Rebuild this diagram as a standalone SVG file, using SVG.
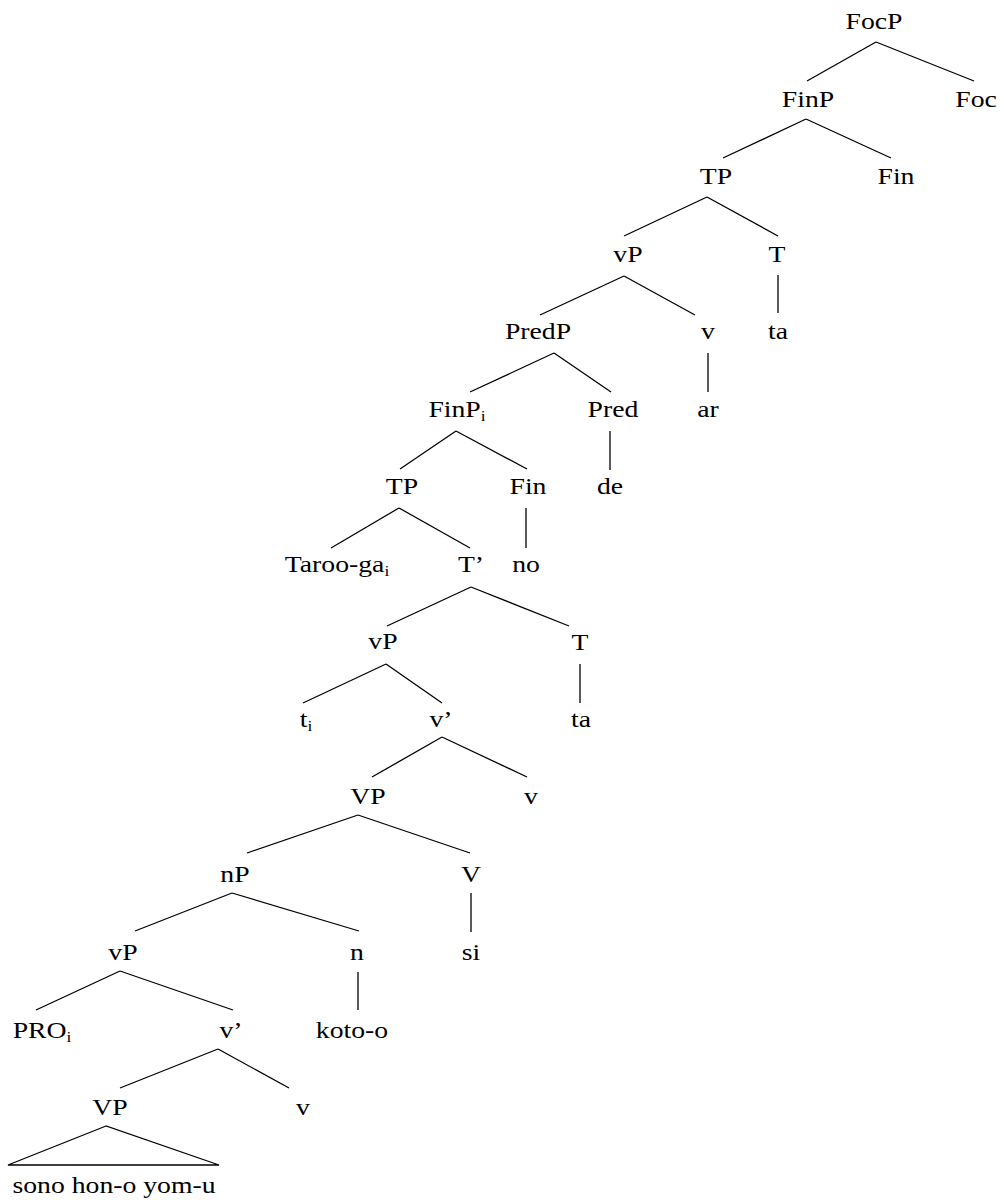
<svg xmlns="http://www.w3.org/2000/svg" width="1004" height="1200" viewBox="0 0 1004 1200">
<style>
  text { font-family: "Liberation Serif", "Times New Roman", serif; font-size: 24px; fill: #000; text-anchor: middle; }
  .sub { font-size: 15px; }
  #connectors line, #connectors polygon { stroke: #000; stroke-width: 1.3; fill: none; }
</style>
<rect width="1004" height="1200" fill="#fff"/>
<g id="connectors">
  <line x1="876" y1="42" x2="807" y2="81"/>
  <line x1="876" y1="42" x2="974" y2="81"/>
  <line x1="806" y1="119" x2="723" y2="158"/>
  <line x1="806" y1="119" x2="891" y2="158"/>
  <line x1="707" y1="197" x2="624" y2="236"/>
  <line x1="707" y1="197" x2="778" y2="236"/>
  <line x1="778" y1="275" x2="778" y2="313"/>
  <line x1="624" y1="276" x2="540" y2="315"/>
  <line x1="624" y1="276" x2="695" y2="315"/>
  <line x1="708" y1="353" x2="708" y2="392"/>
  <line x1="554" y1="353" x2="470" y2="392"/>
  <line x1="554" y1="353" x2="611" y2="392"/>
  <line x1="456" y1="431" x2="400" y2="469"/>
  <line x1="456" y1="431" x2="527" y2="469"/>
  <line x1="610" y1="431" x2="610" y2="470"/>
  <line x1="526" y1="508" x2="526" y2="548"/>
  <line x1="399" y1="508" x2="331" y2="548"/>
  <line x1="399" y1="508" x2="470" y2="548"/>
  <line x1="471" y1="587" x2="387" y2="626"/>
  <line x1="471" y1="587" x2="569" y2="626"/>
  <line x1="580" y1="664" x2="580" y2="703"/>
  <line x1="386" y1="664" x2="303" y2="703"/>
  <line x1="386" y1="664" x2="442" y2="703"/>
  <line x1="442" y1="737" x2="372" y2="777"/>
  <line x1="442" y1="737" x2="527" y2="777"/>
  <line x1="358" y1="815" x2="247" y2="853"/>
  <line x1="358" y1="815" x2="470" y2="853"/>
  <line x1="471" y1="893" x2="471" y2="932"/>
  <line x1="232" y1="893" x2="135" y2="931"/>
  <line x1="232" y1="893" x2="359" y2="931"/>
  <line x1="358" y1="972" x2="358" y2="1010"/>
  <line x1="120" y1="971" x2="36" y2="1010"/>
  <line x1="120" y1="971" x2="233" y2="1010"/>
  <line x1="218" y1="1049" x2="120" y2="1088"/>
  <line x1="218" y1="1049" x2="289" y2="1088"/>
  <polygon points="106,1126 8,1165 219,1165"/>
</g>
<g id="n-FocP"><text transform="translate(874,29) scale(1.155,1)">FocP</text></g>
<g id="n-FinP1"><text transform="translate(808,107) scale(1.155,1)">FinP</text></g>
<g id="n-Foc"><text transform="translate(976,107) scale(1.155,1)">Foc</text></g>
<g id="n-TP1"><text transform="translate(716,184) scale(1.155,1)">TP</text></g>
<g id="n-Fin1"><text transform="translate(896,184) scale(1.155,1)">Fin</text></g>
<g id="n-vP1"><text transform="translate(628,262) scale(1.155,1)">vP</text></g>
<g id="n-T1"><text transform="translate(777,262) scale(1.155,1)">T</text></g>
<g id="n-PredP"><text transform="translate(538,339) scale(1.155,1)">PredP</text></g>
<g id="n-v1"><text transform="translate(708,339) scale(1.155,1)">v</text></g>
<g id="n-ta1"><text transform="translate(778,339) scale(1.155,1)">ta</text></g>
<g id="n-FinPi"><text transform="translate(457,417) scale(1.155,1)">FinP<tspan class="sub" dy="4">i</tspan></text></g>
<g id="n-Pred"><text transform="translate(613,417) scale(1.155,1)">Pred</text></g>
<g id="n-ar"><text transform="translate(708,417) scale(1.155,1)">ar</text></g>
<g id="n-TP2"><text transform="translate(402,494) scale(1.155,1)">TP</text></g>
<g id="n-Fin2"><text transform="translate(528,494) scale(1.155,1)">Fin</text></g>
<g id="n-de"><text transform="translate(610,494) scale(1.155,1)">de</text></g>
<g id="n-Taroo"><text transform="translate(337,572) scale(1.155,1)">Taroo-ga<tspan class="sub" dy="4">i</tspan></text></g>
<g id="n-Tbar"><text transform="translate(471,572) scale(1.155,1)">T’</text></g>
<g id="n-no"><text transform="translate(526,572) scale(1.155,1)">no</text></g>
<g id="n-vP2"><text transform="translate(383,649) scale(1.155,1)">vP</text></g>
<g id="n-T2"><text transform="translate(580,650) scale(1.155,1)">T</text></g>
<g id="n-ti"><text transform="translate(306,727) scale(1.155,1)">t<tspan class="sub" dy="4">i</tspan></text></g>
<g id="n-vbar1"><text transform="translate(441,727) scale(1.155,1)">v’</text></g>
<g id="n-ta2"><text transform="translate(581,727) scale(1.155,1)">ta</text></g>
<g id="n-VP1"><text transform="translate(368,804) scale(1.155,1)">VP</text></g>
<g id="n-v2"><text transform="translate(531,804) scale(1.155,1)">v</text></g>
<g id="n-nP"><text transform="translate(235,882) scale(1.155,1)">nP</text></g>
<g id="n-V"><text transform="translate(471,882) scale(1.155,1)">V</text></g>
<g id="n-vP3"><text transform="translate(123,960) scale(1.155,1)">vP</text></g>
<g id="n-n"><text transform="translate(357,960) scale(1.155,1)">n</text></g>
<g id="n-si"><text transform="translate(471,960) scale(1.155,1)">si</text></g>
<g id="n-PRO"><text transform="translate(42,1038) scale(1.155,1)">PRO<tspan class="sub" dy="4">i</tspan></text></g>
<g id="n-vbar2"><text transform="translate(231,1038) scale(1.155,1)">v’</text></g>
<g id="n-koto"><text transform="translate(352,1038) scale(1.155,1)">koto-o</text></g>
<g id="n-VP2"><text transform="translate(110,1115) scale(1.155,1)">VP</text></g>
<g id="n-v3"><text transform="translate(303,1115) scale(1.155,1)">v</text></g>
<g id="n-sono"><text transform="translate(114,1193) scale(1.155,1)">sono hon-o yom-u</text></g>
</svg>
